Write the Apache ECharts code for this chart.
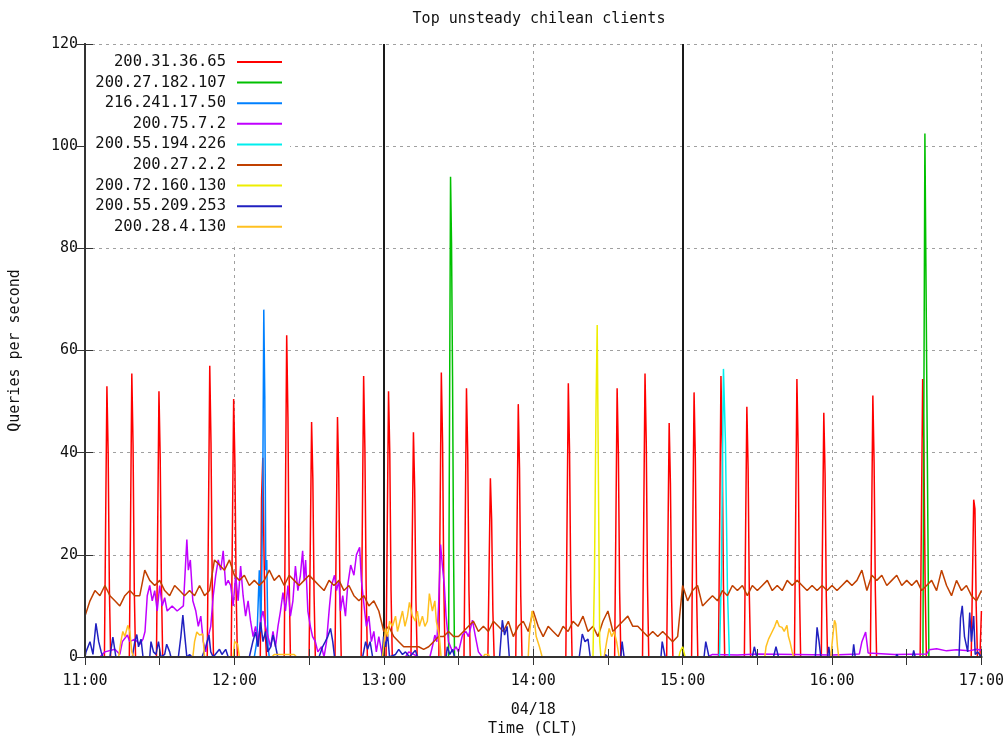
<!DOCTYPE html>
<html>
<head>
<meta charset="utf-8">
<script src="https://cdn.jsdelivr.net/npm/echarts@6/dist/echarts.min.js"></script>
<style>
html,body{margin:0;padding:0;background:#fff;}
#chart{width:1007px;height:744px;}
</style>
</head>
<body>
<div id="chart"></div>
<script>
// ---------- DATA (time in minutes after 11:00) ----------
const seriesNames = ['200.31.36.65','200.27.182.107','216.241.17.50','200.75.7.2','200.55.194.226','200.27.2.2','200.72.160.130','200.55.209.253','200.28.4.130'];
const seriesColors = ['#ff0000','#00c000','#0080ff','#c000ff','#00eeee','#c04000','#eeee00','#2020c0','#ffc020'];
const xTickLabels = ['11:00','12:00','13:00','14:00','15:00','16:00','17:00'];
const yTicks = [0,20,40,60,80,100,120];
const separatorMinutes = [120, 240];

// 200.31.36.65 : periodic spikes (centre minute, then 4 samples at 30 s steps)
const redSpikeCenters = [8.8,18.8,29.7,50.1,59.7,71.4,81.0,91.0,101.4,111.9,121.9,131.9,143.1,153.2,162.8,174.0,194.1,213.7,224.9,234.6,244.6,255.4,265.8,285.9,296.7,316.4,336.4,356.9];
const redSpikeValues = [
 [27,53,40,13],[27,55.5,41.5,13],[26,52,39,14],[28,57,42,14],[25,50.5,38,13],[31,39,20,5],
 [31,63,47,15],[23,46,35,12],[24,47,36,12],[27.5,55,41,14],[26,52,40,13],[22,44,33,11],
 [28,55.7,42,14],[26,52.6,40,13],[18,35,27,9],[25,49.5,37,12],[27,53.6,40,13],[26,52.6,40,13],
 [28,55.5,42,14],[23,45.8,34,11],[26,51.8,39,13],[27,55,41,14],[25,49,37,12],[27,54.4,41,14],
 [24,47.8,36,12],[26,51.2,38,13],[27,54.4,41,14],[15,30.8,29,10]
];
const redEnd = [[359.4,0],[360,9]];

const green = [[0,0],[146,0],[146.4,47],[146.8,94],[147.2,81],[147.6,55],[148,21],[148.4,0],[336.5,0],[336.9,51],[337.3,102.5],[337.7,77],[338.1,51],[338.5,25],[338.9,0],[360,0]];
const lightBlue = [[0,0],[68,0],[69,3],[70,17],[70.6,5],[71,17],[71.4,34],[71.8,68],[72.2,51],[72.6,17],[73,19],[73.5,2],[74,0],[360,0]];
const purple = [[0,0],[6,0],[8,1],[12,1.5],[14,0.5],[15,3],[17,4.3],[18,3],[20,3.5],[22,2.5],[23.3,3.5],[24.1,5],[25,12],[26,14],[27,11],[28,13],[29,9],[30,14],[31,10],[32,11.6],[33,9],[35,10],[37,9],[39.5,10],[40.9,23],[41.5,17],[42.3,19],[43.3,11],[44.5,9],[45.5,6],[46.5,8],[47.5,3],[48.5,1],[49.5,4],[50.5,6],[51.5,12],[52.5,16],[53.5,19],[54.5,17],[55.5,20.8],[56.5,14],[57.5,15],[58.5,14],[59.5,10],[60.5,16],[61.5,11],[62.5,17.8],[63.5,12],[64.5,8],[65.5,11],[66.5,7],[67.5,4],[68.5,6],[69.5,3],[70.5,7],[71.5,9],[72.5,6],[73.5,4],[74.5,2],[75.5,5],[76.5,2],[77.5,6],[78.5,9],[79.5,12.6],[80.5,9],[81.5,14],[82.5,8],[83.5,11],[84.5,17.8],[85.5,13],[86.5,16],[87.4,20.8],[88,15],[88.6,19],[89.5,9],[90.5,6],[91.4,4],[92.5,3],[93.5,1],[95,2],[96,0],[97,3],[98.2,10],[99,14],[100.2,16],[101,13],[102,15],[102.6,9],[103.5,12],[104.6,8],[105.5,14],[106.7,18],[108,16],[109,20],[110.3,21.5],[111,15],[112.3,9],[113,6],[114,8],[115,3],[116,5],[117,1],[118,4],[119.5,0],[128.7,0],[130,1],[132,0.5],[134,0],[138.5,0],[139.5,2],[140.5,4.3],[141.3,3],[142,10],[142.8,22],[143.5,18],[144.3,14],[145,8],[146,3],[147.6,1],[149,2],[150,1],[151.6,4.3],[153,5],[154,4],[155.6,7.2],[156.8,4],[158,1],[159.6,0],[250,0],[252,0.5],[262,0.4],[270,0.6],[285,0.5],[300,0.4],[311,0.6],[312,3],[313.5,4.9],[314.5,0.8],[325,0.5],[338,0.6],[339,1.4],[342,1.6],[346,1.2],[350,1.4],[355,1.2],[358,1.5],[360,1.3]];
const cyan = [[0,0],[254.8,0],[255.6,17],[256.4,56.4],[257.2,42],[258,13.4],[258.8,0],[360,0]];
// 200.27.2.2 : sampled every 2 minutes from 11:00
const brownValues = [
 8,11,13,12,14,12,
 11,10,12,13,12, 12,17,15,14,15, 13,12,14,13,12, 13,12,14,12,13, 19,18,17,19,16,
 15,16,14,15,14, 15,17,15,16,14, 16,15,14,15,16, 15,14,13,15,14, 15,13,14,12,11,
 12,10,11,9,5, 6,4,3,2,2, 2,2,1.5,2,3, 4,4,5,4,4, 5,6,7,5,6,
 5,7,6,5,7, 4,6,7,5,9, 6,4,6,5,4, 6,5,7,6,8, 5,6,4,7,9,
 5,6,7,8,6, 6,5,4,5,4, 5,4,3,4,14, 11,13,14,10,11, 12,11,13,12,14,
 13,14,12,14,13, 14,15,13,14,13, 15,14,15,14,13, 14,13,14,13,14, 13,14,15,14,15,
 17,13,16,15,16, 14,15,16,14,15, 14,15,13,14,15, 13,17,14,12,15, 13,14,12,11,13
];
const yellow = [[0,0],[204,0],[204.6,16],[205.2,48],[205.7,65],[206.2,34],[206.7,3],[207.2,0],[238.5,0],[239,1],[240,2],[241,0],[360,0]];
const navy = [[0,0],[0.4,1],[2,3],[3.2,0.5],[4.4,6.6],[5.5,3],[6.5,1],[7.2,0],[10,0],[11.2,3.9],[12.4,0],[19,0],[20,3],[20.8,4.4],[21.5,2],[22.5,3.5],[23.3,0],[26,0],[26.5,3],[27.5,1],[28.5,0.5],[29.5,3],[30.5,0],[32,0.5],[32.8,2.5],[34,1],[34.5,0],[37.5,0],[38.5,4],[39.3,8.2],[40.1,4],[40.9,0],[42,0.5],[43,0],[47,0],[48.5,2],[49.8,4.3],[50.5,1],[51.5,0],[54,1.5],[55,0.5],[56.5,1.5],[57.5,0],[66,0],[67.4,3],[68.5,4.9],[69.5,2],[70.5,6.8],[71.5,3],[72.5,5],[73.4,1],[74.6,2],[75.5,4.3],[76.6,2],[77.4,0],[94,0],[95.4,2],[96.5,3],[97.5,4],[98.6,5.6],[99.5,3],[100.2,0],[111.5,0],[112.7,3],[113.5,1.5],[114.5,3],[115.5,0],[119.3,0],[119.9,4],[120.7,2],[121.5,4.5],[122.3,0],[124.7,0.5],[126,1.5],[127.5,0.5],[128.7,1],[130.3,0],[132.7,1.3],[133.5,0],[145,0],[145.5,2],[146.5,0.5],[147.6,1.5],[148.4,0],[166.5,0],[167.6,7.2],[168.5,4.3],[169.5,6],[170.4,0],[198.5,0],[199.7,4.5],[200.8,3],[202,3.5],[202.9,0],[208.5,0],[209,0.5],[210,0],[215.2,0],[215.7,3],[216.5,0],[231.3,0],[231.8,3],[233,0],[248.6,0],[249.3,3],[250.6,0],[268,0],[268.8,2],[269.8,0],[276.5,0],[277.5,2],[278.5,0],[293.3,0],[294,5.8],[294.8,3],[295.5,0],[298.2,0],[298.7,2],[299.3,0],[308.2,0],[308.7,2.5],[309.3,0],[325.6,0],[326,0.5],[326.6,0],[332.3,0],[332.8,1.3],[333.4,0],[351,0],[351.6,7.6],[352.3,10],[353.2,4],[354,4.3],[354.5,1],[355.3,8.7],[356,3],[356.9,8],[357.5,0.5],[358.5,1],[360,0]];
const orange = [[0,0],[13.5,0],[14.4,3],[15.2,5],[16,4],[17.2,6.2],[18,5],[18.8,1],[19.5,0],[43.3,0],[44,3],[44.9,4.9],[46,4.3],[47.3,4.5],[48,0],[59.5,0],[60.1,3],[61.3,2.5],[62,0],[75,0],[76,0.5],[84,0.5],[85,0],[119.5,0],[120.7,5.6],[121.5,4],[122.3,7],[123.5,6],[124.7,8],[125.5,5],[126.5,7],[127.5,9],[128.5,6],[129.5,8],[130.3,10.7],[131.5,8],[132.7,7],[133.5,9],[134.3,6],[135.5,8],[136.5,6],[137.5,7],[138.3,12.4],[139.5,9],[140.5,11],[141.1,7],[142.3,4],[143,0],[160,0],[160.5,0.5],[162,0.5],[162.5,0],[178,0],[178.4,4],[179.5,9],[180.5,7],[181.2,4],[182.5,2],[183.6,0],[208.5,0],[209.5,3],[210.5,5.6],[211.5,4],[212.5,5],[213.5,3],[214.5,0],[273,0],[273.5,2],[274.5,3.5],[275.9,4.9],[277,6],[277.9,7.2],[278.8,6],[279.9,5.8],[280.8,5],[281.9,6.2],[282.5,4],[283.1,3],[284,1],[284.7,0],[299.5,0],[300.3,4],[301,7.2],[301.5,6.5],[302.2,2],[302.7,0],[360,0]];

// ---------- BUILD ----------
const red = [[0,0]];
redSpikeCenters.forEach((c, i) => {
  const v = redSpikeValues[i];
  red.push([c - 1, 0], [c - 0.5, v[0]], [c, v[1]], [c + 0.5, v[2]], [c + 1, v[3]], [c + 1.5, 0]);
});
redEnd.forEach(p => red.push(p));
const brown = brownValues.map((v, i) => [i * 2, v]);
const allData = [red, green, lightBlue, purple, cyan, brown, yellow, navy, orange];

const FONT = 'DejaVu Sans Mono';
const axisLineStyle = {color: '#333', width: 2};
const gridLineStyle = {color: '#a0a0a0', type: [3, 4], width: 1};

const series = allData.map((d, i) => ({
  name: seriesNames[i],
  type: 'line',
  data: d,
  showSymbol: false,
  symbol: 'none',
  animation: false,
  lineStyle: {width: 1.5, color: seriesColors[i]},
  itemStyle: {color: seriesColors[i]},
  z: 2 + i
}));
series[0].markLine = {
  silent: true,
  symbol: 'none',
  label: {show: false},
  lineStyle: {color: '#1a1a1a', type: 'solid', width: 2},
  data: separatorMinutes.map(m => ({xAxis: m}))
};

const chart = echarts.init(document.getElementById('chart'), null, {renderer: 'canvas'});
chart.setOption({
  animation: false,
  backgroundColor: '#fff',
  title: {
    text: 'Top unsteady chilean clients',
    left: 534, top: 7, textAlign: 'center',
    textStyle: {fontFamily: FONT, fontSize: 15, fontWeight: 'normal', color: '#111'}
  },
  grid: {left: 85, right: 24, top: 44, bottom: 82, containLabel: false},
  legend: {
    data: seriesNames,
    orient: 'vertical',
    left: 86, top: 45,
    align: 'right',
    icon: 'rect',
    itemWidth: 45, itemHeight: 2,
    itemGap: 4.6,
    padding: [9, 8, 8, 8],
    backgroundColor: '#fff',
    selectedMode: false,
    textStyle: {fontFamily: FONT, fontSize: 15.5, color: '#111', width: 132, align: 'right', lineHeight: 16, padding: [0, 6, 0, 0]},
    z: 20
  },
  xAxis: [{
    type: 'value', min: 0, max: 360, interval: 60, z: 15,
    name: '04/18\nTime (CLT)', nameLocation: 'middle', nameGap: 44,
    nameTextStyle: {fontFamily: FONT, fontSize: 15, color: '#111', lineHeight: 19},
    axisLine: {show: true, lineStyle: axisLineStyle},
    axisTick: {show: true, inside: true, length: 8, lineStyle: {color: '#333'}},
    minorTick: {show: true, splitNumber: 2, length: 8, lineStyle: {color: '#333'}},
    axisLabel: {fontFamily: FONT, fontSize: 15, color: '#111', margin: 17, formatter: v => xTickLabels[Math.round(v / 60)]},
    splitLine: {show: false}
  }, {
    type: 'value', min: 0, max: 360, interval: 60, position: 'top',
    axisLine: {show: true, lineStyle: axisLineStyle},
    axisTick: {show: true, inside: true, length: 8, lineStyle: {color: '#333'}},
    minorTick: {show: true, splitNumber: 2, length: 8, lineStyle: {color: '#333'}},
    axisLabel: {show: false},
    splitLine: {show: true, lineStyle: gridLineStyle}
  }],
  yAxis: [{
    type: 'value', min: yTicks[0], max: yTicks[yTicks.length - 1], interval: 20, z: 15,
    name: 'Queries per second', nameLocation: 'middle', nameGap: 62, nameRotate: 90,
    nameTextStyle: {fontFamily: FONT, fontSize: 15, color: '#111'},
    axisLine: {show: true, lineStyle: axisLineStyle},
    axisTick: {show: true, inside: true, length: 8, lineStyle: {color: '#333'}},
    axisLabel: {fontFamily: FONT, fontSize: 15, color: '#111', margin: 7},
    splitLine: {show: false}
  }, {
    type: 'value', min: yTicks[0], max: yTicks[yTicks.length - 1], interval: 20, position: 'right',
    axisLine: {show: true, lineStyle: axisLineStyle},
    axisTick: {show: true, inside: true, length: 8, lineStyle: {color: '#333'}},
    axisLabel: {show: false},
    splitLine: {show: true, lineStyle: gridLineStyle}
  }],
  series: series
});
</script>
</body>
</html>
